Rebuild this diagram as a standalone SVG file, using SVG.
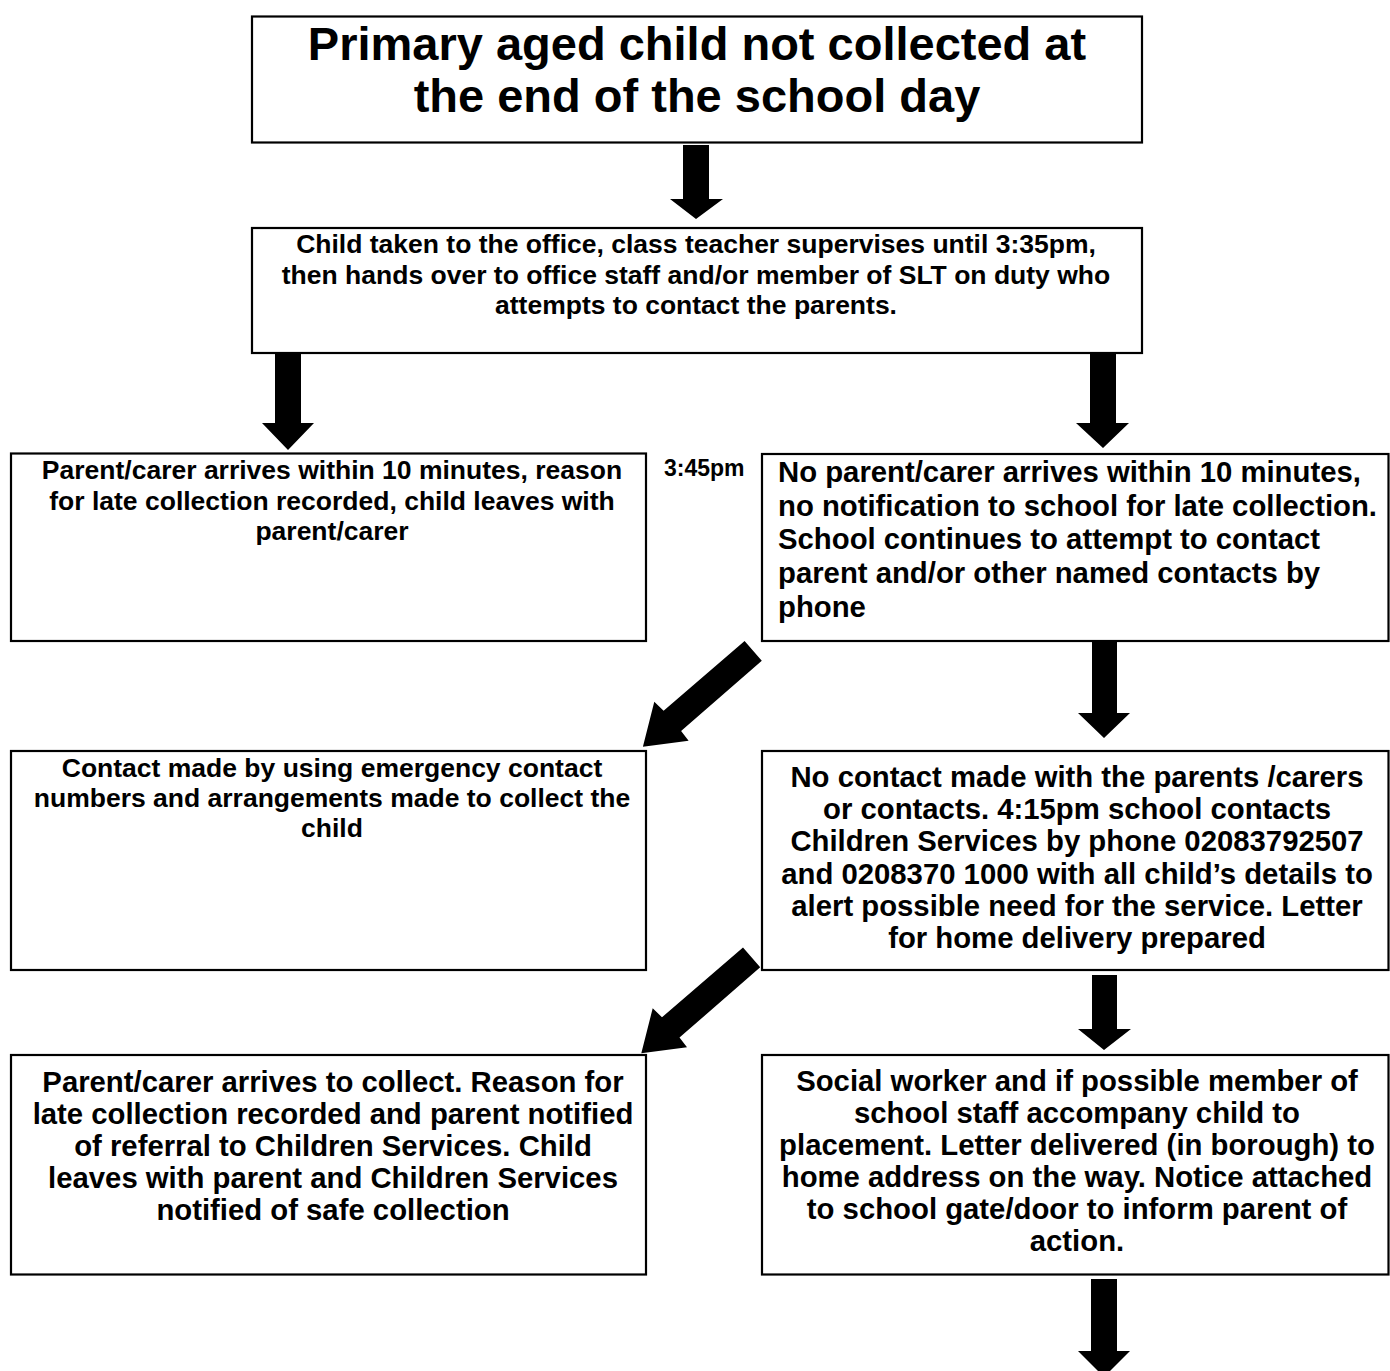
<svg xmlns="http://www.w3.org/2000/svg" width="1390" height="1371" viewBox="0 0 1390 1371">
<style>
  .box { fill: #ffffff; stroke: #000000; stroke-width: 2.2; }
  .arrow { fill: #000000; stroke: none; }
  text { font-family: Arial, "Liberation Sans", sans-serif; font-weight: bold; fill: #000000; }
  .c { text-anchor: middle; }
  .s { text-anchor: start; }
  .t1 { font-size: 47px; }
  .t2 { font-size: 26.5px; }
  .t3 { font-size: 29.3px; }
  .tm { font-size: 23px; }
</style>
<rect width="1390" height="1371" fill="#ffffff"/>

<g id="connectors">
  <polygon class="arrow" points="683,145 709,145 709,199 723,199 696,219 670,199 683,199"/>
  <polygon class="arrow" points="275,351 301,351 301,423 314,423 288,450 262,423 275,423"/>
  <polygon class="arrow" points="1090,351 1116,351 1116,423 1129,423 1103,448 1076,423 1090,423"/>
  <polygon class="arrow" points="1092,642 1117,642 1117,713 1130,713 1104,738 1078,713 1092,713"/>
  <polygon class="arrow" points="1092,975 1117,975 1117,1029 1131,1029 1104,1050 1078,1029 1092,1029"/>
  <polygon class="arrow" points="1091,1279 1117,1279 1117,1351 1130,1351 1104,1377 1078,1351 1091,1351"/>
  <polygon class="arrow" points="744.6,641 761.8,660.7 681.1,731 688.6,740.7 642.9,746.7 654.3,701.7 663.6,710.7"/>
  <polygon class="arrow" points="743,947.6 760.2,967.3 679.5,1037.6 687,1047.3 641.3,1053.3 652.7,1008.3 662,1017.3"/>
</g>

<g id="n1">
  <rect class="box" x="252" y="16.5" width="890" height="126"/>
  <text class="c t1" x="697" y="60">Primary aged child not collected at</text>
  <text class="c t1" x="697" y="112">the end of the school day</text>
</g>

<g id="n2">
  <rect class="box" x="252" y="228" width="890" height="125"/>
  <text class="c t2" x="696" y="253">Child taken to the office, class teacher supervises until 3:35pm,</text>
  <text class="c t2" x="696" y="283.5">then hands over to office staff and/or member of SLT on duty who</text>
  <text class="c t2" x="696" y="314">attempts to contact the parents.</text>
</g>

<g id="n3">
  <rect class="box" x="11" y="453.5" width="635" height="187.5"/>
  <text class="c t2" x="332" y="479">Parent/carer arrives within 10 minutes, reason</text>
  <text class="c t2" x="332" y="510">for late collection recorded, child leaves with</text>
  <text class="c t2" x="332" y="540">parent/carer</text>
</g>

<g id="label-345">
  <text class="s tm" x="664" y="476">3:45pm</text>
</g>

<g id="n4">
  <rect class="box" x="762" y="454" width="626.5" height="187"/>
  <text class="s t3" x="778" y="481.7">No parent/carer arrives within 10 minutes,</text>
  <text class="s t3" x="778" y="515.5">no notification to school for late collection.</text>
  <text class="s t3" x="778" y="549.3">School continues to attempt to contact</text>
  <text class="s t3" x="778" y="583.1">parent and/or other named contacts by</text>
  <text class="s t3" x="778" y="616.9">phone</text>
</g>

<g id="n5">
  <rect class="box" x="11" y="751" width="635" height="219"/>
  <text class="c t2" x="332" y="777">Contact made by using emergency contact</text>
  <text class="c t2" x="332" y="807">numbers and arrangements made to collect the</text>
  <text class="c t2" x="332" y="837">child</text>
</g>

<g id="n6">
  <rect class="box" x="762" y="751" width="626.5" height="219"/>
  <text class="c t3" x="1077" y="787">No contact made with the parents /carers</text>
  <text class="c t3" x="1077" y="819.2">or contacts. 4:15pm school contacts</text>
  <text class="c t3" x="1077" y="851.4">Children Services by phone 02083792507</text>
  <text class="c t3" x="1077" y="883.6">and 0208370 1000 with all child’s details to</text>
  <text class="c t3" x="1077" y="915.8">alert possible need for the service. Letter</text>
  <text class="c t3" x="1077" y="948">for home delivery prepared</text>
</g>

<g id="n7">
  <rect class="box" x="11" y="1055" width="635" height="219.5"/>
  <text class="c t3" x="333" y="1092">Parent/carer arrives to collect. Reason for</text>
  <text class="c t3" x="333" y="1124">late collection recorded and parent notified</text>
  <text class="c t3" x="333" y="1156">of referral to Children Services. Child</text>
  <text class="c t3" x="333" y="1188">leaves with parent and Children Services</text>
  <text class="c t3" x="333" y="1220">notified of safe collection</text>
</g>

<g id="n8">
  <rect class="box" x="762" y="1055" width="626.5" height="219.5"/>
  <text class="c t3" x="1077" y="1091">Social worker and if possible member of</text>
  <text class="c t3" x="1077" y="1123">school staff accompany child to</text>
  <text class="c t3" x="1077" y="1155">placement. Letter delivered (in borough) to</text>
  <text class="c t3" x="1077" y="1187">home address on the way. Notice attached</text>
  <text class="c t3" x="1077" y="1219">to school gate/door to inform parent of</text>
  <text class="c t3" x="1077" y="1251">action.</text>
</g>
</svg>
